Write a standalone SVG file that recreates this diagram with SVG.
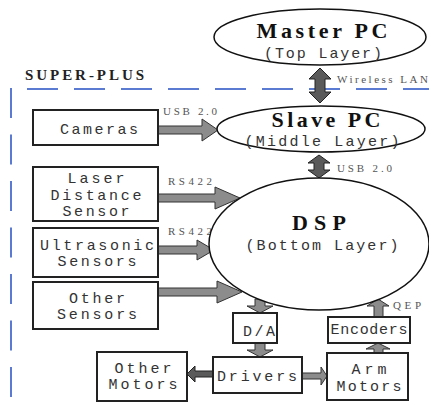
<svg xmlns="http://www.w3.org/2000/svg" width="429" height="407" viewBox="0 0 429 407">
<style>
.bx{fill:#fff;stroke:#222;stroke-width:2}
.el{fill:#fff;stroke:#111;stroke-width:1.5}
.t{font-family:"Liberation Mono",monospace;font-size:15px;fill:#333;text-anchor:middle}
.ti{font-family:"Liberation Serif",serif;font-weight:bold;font-size:22px;fill:#111;text-anchor:middle}
.lb{font-family:"Liberation Serif",serif;font-size:11px;fill:#555}
.ar{fill:#8c8c8c;stroke:#333;stroke-width:1}
.ad{fill:#5a5a5a;stroke:#222;stroke-width:1}
.ds{fill:none;stroke:#5a7bd1;stroke-width:2}
</style>
<rect width="429" height="407" fill="#fff"/>
<g id="boundary">
<line class="ds" x1="27" y1="89" x2="429" y2="89" stroke-dasharray="31 16"/>
<line class="ds" x1="11" y1="88" x2="11" y2="407" stroke-dasharray="30 16.5"/>
<text x="25" y="80" font-family="Liberation Serif,serif" font-weight="bold" font-size="15" fill="#222" textLength="119" lengthAdjust="spacing">SUPER-PLUS</text>
</g>
<g id="connectors">
<polygon class="ad" points="320,68 331,79 325,79 325,92 331,92 320,103 309,92 315,92 315,79 309,79"/>
<polygon class="ad" points="319,155 330,163 324,163 324,170 330,170 319,178 308,170 314,170 314,163 308,163"/>
<polygon class="ar" points="158,126 202,126 202,119 218,130 202,141 202,134 158,134"/>
<polygon class="ar" points="158,194 215,194 215,187 240,198 215,209 215,202 158,202"/>
<polygon class="ar" points="158,246 197,246 197,240 214,250 197,260 197,254 158,254"/>
<polygon class="ar" points="158,288 217,288 217,281 242,292 217,303 217,296 158,296"/>
<polygon class="ar" points="255,299 265,299 265,306 273,306 260,313 247,306 255,306"/>
<polygon class="ar" points="255,343 265,343 265,350 273,350 260,357 247,350 255,350"/>
<polygon class="ar" points="374,317 383,317 383,306 389,306 378,299 367,306 374,306"/>
<polygon class="ar" points="374,353 383,353 383,349 390,349 378,343 366,349 374,349"/>
<polygon class="ar" points="302,373 321,373 321,367 327,376 321,385 321,379 302,379"/>
<polygon class="ad" points="213,371 195,371 195,366 187,374 195,382 195,377 213,377"/>
<text class="lb" x="163" y="115" textLength="54" lengthAdjust="spacing">USB 2.0</text>
<text class="lb" x="168" y="185" textLength="44" lengthAdjust="spacing">RS422</text>
<text class="lb" x="168" y="235" textLength="44" lengthAdjust="spacing">RS422</text>
<text class="lb" x="337" y="83" textLength="91" lengthAdjust="spacing">Wireless LAN</text>
<text class="lb" x="337" y="172" textLength="55" lengthAdjust="spacing">USB 2.0</text>
<text class="lb" x="393" y="309" textLength="28" lengthAdjust="spacing">QEP</text>
</g>
<g id="master">
<ellipse class="el" cx="320" cy="37" rx="106" ry="28"/>
<text class="ti" x="322" y="38" textLength="131" lengthAdjust="spacing">Master PC</text>
<text class="t" x="323" y="58" textLength="118" lengthAdjust="spacing">(Top Layer)</text>
</g>
<g id="slave">
<ellipse class="el" cx="321" cy="129" rx="104" ry="23"/>
<text class="ti" x="326" y="127" textLength="109" lengthAdjust="spacing">Slave PC</text>
<text class="t" x="322" y="146" textLength="155" lengthAdjust="spacing">(Middle Layer)</text>
</g>
<g id="dsp">
<ellipse class="el" cx="319" cy="244" rx="110" ry="66"/>
<text class="ti" x="319" y="230" textLength="54" lengthAdjust="spacing">DSP</text>
<text class="t" x="322" y="250" textLength="153" lengthAdjust="spacing">(Bottom Layer)</text>
</g>
<g id="cameras">
<rect class="bx" x="33" y="110" width="125" height="35"/>
<text class="t" x="99" y="134" textLength="78" lengthAdjust="spacing">Cameras</text>
</g>
<g id="laser">
<rect class="bx" x="33" y="167" width="125" height="54"/>
<text class="t" x="96" y="183" textLength="57" lengthAdjust="spacing">Laser</text>
<text class="t" x="96" y="200" textLength="91" lengthAdjust="spacing">Distance</text>
<text class="t" x="96" y="216" textLength="67" lengthAdjust="spacing">Sensor</text>
</g>
<g id="ultrasonic">
<rect class="bx" x="33" y="228" width="125" height="49"/>
<text class="t" x="97" y="250" textLength="114" lengthAdjust="spacing">Ultrasonic</text>
<text class="t" x="97" y="266" textLength="79" lengthAdjust="spacing">Sensors</text>
</g>
<g id="other-sensors">
<rect class="bx" x="33" y="282" width="125" height="47"/>
<text class="t" x="97" y="303" textLength="56" lengthAdjust="spacing">Other</text>
<text class="t" x="97" y="319" textLength="80" lengthAdjust="spacing">Sensors</text>
</g>
<g id="da">
<rect class="bx" x="233" y="313" width="44" height="30"/>
<text class="t" x="259" y="336" textLength="32" lengthAdjust="spacing">D/A</text>
</g>
<g id="encoders">
<rect class="bx" x="328" y="317" width="82" height="26"/>
<text class="t" x="369" y="334" textLength="77" lengthAdjust="spacing">Encoders</text>
</g>
<g id="drivers">
<rect class="bx" x="213" y="357" width="89" height="36"/>
<text class="t" x="257" y="381" textLength="80" lengthAdjust="spacing">Drivers</text>
</g>
<g id="arm-motors">
<rect class="bx" x="327" y="353" width="81" height="47"/>
<text class="t" x="369" y="374" textLength="35" lengthAdjust="spacing">Arm</text>
<text class="t" x="369" y="391" textLength="65" lengthAdjust="spacing">Motors</text>
</g>
<g id="other-motors">
<rect class="bx" x="97" y="352" width="90" height="49"/>
<text class="t" x="143" y="373" textLength="57" lengthAdjust="spacing">Other</text>
<text class="t" x="143" y="389" textLength="69" lengthAdjust="spacing">Motors</text>
</g>
</svg>
